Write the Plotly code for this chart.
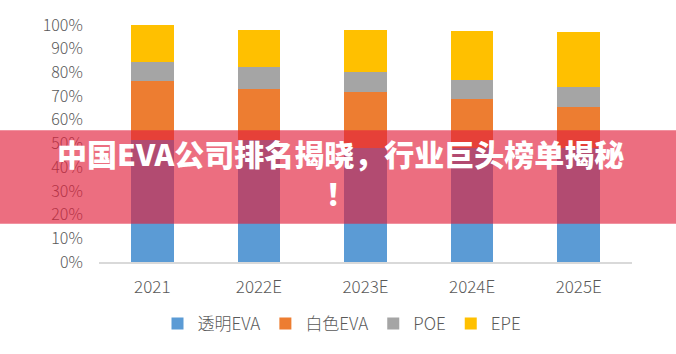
import plotly.graph_objects as go

years = ["2021", "2022E", "2023E", "2024E", "2025E"]
series_names = ["透明EVA", "白色EVA", "POE", "EPE"]
transparent_eva = [51.5, 51.5, 48.0, 48.0, 48.0]
white_eva = [25.0, 21.5, 23.7, 20.6, 17.4]
poe = [8.1, 9.2, 8.4, 8.3, 8.5]
epe = [15.4, 15.8, 17.9, 20.7, 23.3]
colors = ["#5B9BD5", "#ED7D31", "#A5A5A5", "#FFC000"]
y_ticks = list(range(0, 101, 10))
y_tick_text = [f"{v}%" for v in y_ticks]
title_text = "中国EVA公司排名揭晓，行业巨头榜单揭秘<br>！"

FONT = "Noto Sans CJK SC"
GRAY = "#595959"

fig = go.Figure()
for name, vals, col in zip(series_names, [transparent_eva, white_eva, poe, epe], colors):
    fig.add_trace(go.Bar(x=years, y=vals, name=name, marker=dict(color=col, line=dict(width=0))))

W, H = 676, 354
L, R, T, B = 99, 44, 23, 90
pw, ph = W - L - R, H - T - B

def px_x(x):
    return (x - L) / pw

def px_y(y):
    return (H - B - y) / ph

fig.update_layout(
    width=W, height=H,
    margin=dict(l=L, r=R, t=T, b=B),
    barmode="stack",
    bargap=0.6,
    paper_bgcolor="white",
    plot_bgcolor="white",
    font=dict(family=FONT, color=GRAY),
    xaxis=dict(
        showgrid=False, showline=True, linecolor="#D9D9D9", linewidth=2,
        ticks="outside", ticklen=9, tickcolor="rgba(0,0,0,0)",
        tickfont=dict(size=17, color=GRAY, family=FONT, weight=300),
    ),
    yaxis=dict(
        range=[0, 100], tickvals=y_ticks, ticktext=y_tick_text,
        showgrid=False, zeroline=False, showline=False,
        ticks="outside", ticklen=12, tickcolor="rgba(0,0,0,0)",
        tickfont=dict(size=16, color=GRAY, family=FONT, weight=300),
    ),
    legend=dict(
        orientation="h", x=px_x(342), xanchor="center", y=px_y(327), yanchor="middle",
        font=dict(size=17, color=GRAY, family=FONT, weight=300),
        itemwidth=30, traceorder="normal",
    ),
    shapes=[dict(
        type="rect", xref="paper", yref="paper",
        x0=px_x(0), x1=px_x(W), y0=px_y(225), y1=px_y(130),
        fillcolor="rgba(226,32,60,0.65)", line=dict(width=0), layer="above",
    )],
    annotations=[dict(
        text=title_text, xref="paper", yref="paper",
        x=px_x(340), y=px_y(172.5), xanchor="center", yanchor="middle",
        showarrow=False, align="center",
        font=dict(family=FONT, size=30, color="white", weight=900),
    )],
)

fig.write_html("out.html")
